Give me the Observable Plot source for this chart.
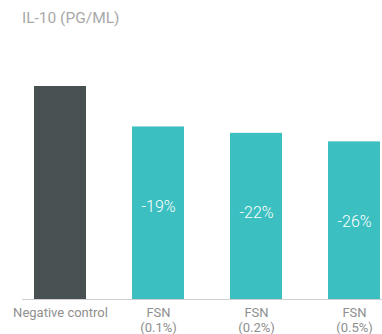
<!DOCTYPE html>
<html>
<head>
<meta charset="utf-8">
<script src="https://cdn.jsdelivr.net/npm/d3@7"></script>
<script src="https://cdn.jsdelivr.net/npm/@observablehq/plot@0.6"></script>
<style>
  html, body { margin: 0; padding: 0; background: #fff; }
  #wrap { width: 382px; height: 334px; overflow: hidden; font-family: Roboto, "Noto Sans", sans-serif; }
  #title { height: 40px; box-sizing: border-box; padding: 9px 0 0 22px; font-size: 15.5px; line-height: 18px; color: #a9a9a9; }
  svg { display: block; }
</style>
</head>
<body>
<div id="wrap">
  <div id="title">IL-10 (PG/ML)</div>
  <div id="chart"></div>
</div>
<script>
const categories = ["Negative control", "FSN (0.1%)", "FSN (0.2%)", "FSN (0.5%)"];
const tickLabels = ["Negative control", "FSN\n(0.1%)", "FSN\n(0.2%)", "FSN\n(0.5%)"];
const values = [100, 81, 78, 74];
const changeLabels = ["", "-19%", "-22%", "-26%"];
const groups = ["control", "FSN", "FSN", "FSN"];

const data = categories.map((c, i) => ({ cat: c, value: values[i], label: changeLabels[i], group: groups[i] }));

const chart = Plot.plot({
  width: 382,
  height: 294,
  marginTop: 46,
  marginBottom: 35,
  marginLeft: 22,
  marginRight: 0,
  style: { fontFamily: "Roboto, 'Noto Sans', sans-serif", background: "#fff" },
  x: {
    domain: categories,
    paddingInner: 0.474,
    paddingOuter: 0.0735,
    align: 0.83,
    tickSize: 0,
    tickPadding: 8,
    tickFormat: (d) => tickLabels[categories.indexOf(d)],
    label: null
  },
  y: { domain: [0, 100], axis: null },
  color: { domain: ["control", "FSN"], range: ["#485152", "#3bbfc0"] },
  marks: [
    Plot.barY(data, { x: "cat", y: "value", fill: "group" }),
    Plot.ruleY([0], { stroke: "#cfcfcf", strokeWidth: 1 }),
    Plot.text(data.filter(d => d.label), {
      x: "cat",
      y: "value",
      text: "label",
      fill: "#fff",
      fontSize: 16,
      fontWeight: 300,
      dy: 80
    }),
    Plot.axisX({
      tickSize: 0,
      tickPadding: 8,
      fontSize: 13,
      lineHeight: 1.08,
      color: "#8f8f8f",
      tickFormat: (d) => tickLabels[categories.indexOf(d)],
      label: null
    })
  ]
});
document.getElementById("chart").appendChild(chart);
</script>
</body>
</html>
